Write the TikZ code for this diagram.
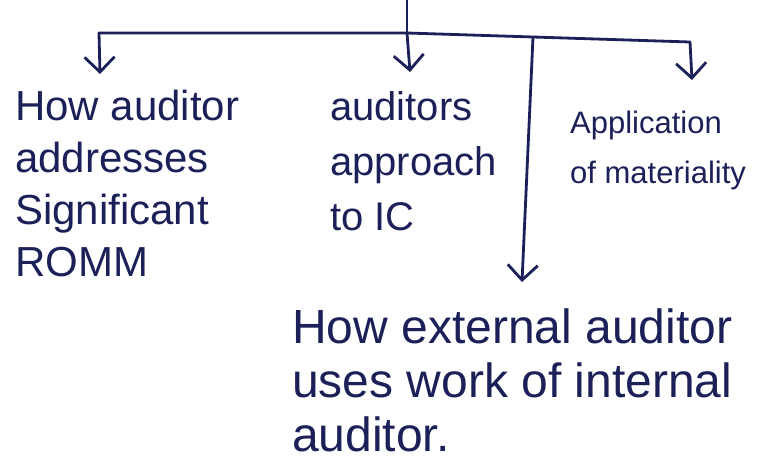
\documentclass[tikz,border=0pt]{standalone}
\usepackage{fontspec}
\setmainfont{Liberation Sans}
\usetikzlibrary{arrows.meta}
\definecolor{ink}{RGB}{28,32,88}

\begin{document}
\begin{tikzpicture}[x=1pt,y=-1pt,
    line/.style={draw=ink,line width=2.8pt,line cap=round,line join=round},
    arr/.style={line,-{Straight Barb[length=15pt,width=30pt]}},
    txt/.style={text=ink,align=left,inner sep=0pt,anchor=base west}]
  \useasboundingbox (0,0) rectangle (759,465);

  % 幹と横線
  \coordinate (top) at (407,0);
  \coordinate (jL) at (99,33);
  \coordinate (jM) at (407,33);
  \coordinate (jE) at (533,37);
  \coordinate (jR) at (690,42);
  \draw[line] (top) -- (jM);
  \draw[line] (jL) -- (jM) -- (jE) -- (jR);

  % 矢印の先
  \coordinate (tL) at (100,74);
  \coordinate (tM) at (410,72);
  \coordinate (tR) at (692,80);
  \coordinate (tE) at (522,282);
  \draw[arr] (jL) -- (tL);
  \draw[arr] (jM) -- (tM);
  \draw[arr] (jR) -- (tR);
  \draw[arr] (jE) -- (tE);

  % 本文 (基準点は最終行のベースライン)
  \node[txt,font=\fontsize{42}{52}\selectfont] (romm) at (15,276)
    {How auditor\\addresses\\Significant\\ROMM};
  \node[txt,font=\fontsize{40}{55}\selectfont] (ic) at (330,230)
    {auditors\\approach\\to IC};
  \node[txt,font=\fontsize{31}{50}\selectfont] (mat) at (570,183)
    {Application\\of materiality};
  \node[txt,font=\fontsize{48}{54}\selectfont] (ext) at (292,451)
    {How external auditor\\uses work of internal\\auditor.};
\end{tikzpicture}
\end{document}
